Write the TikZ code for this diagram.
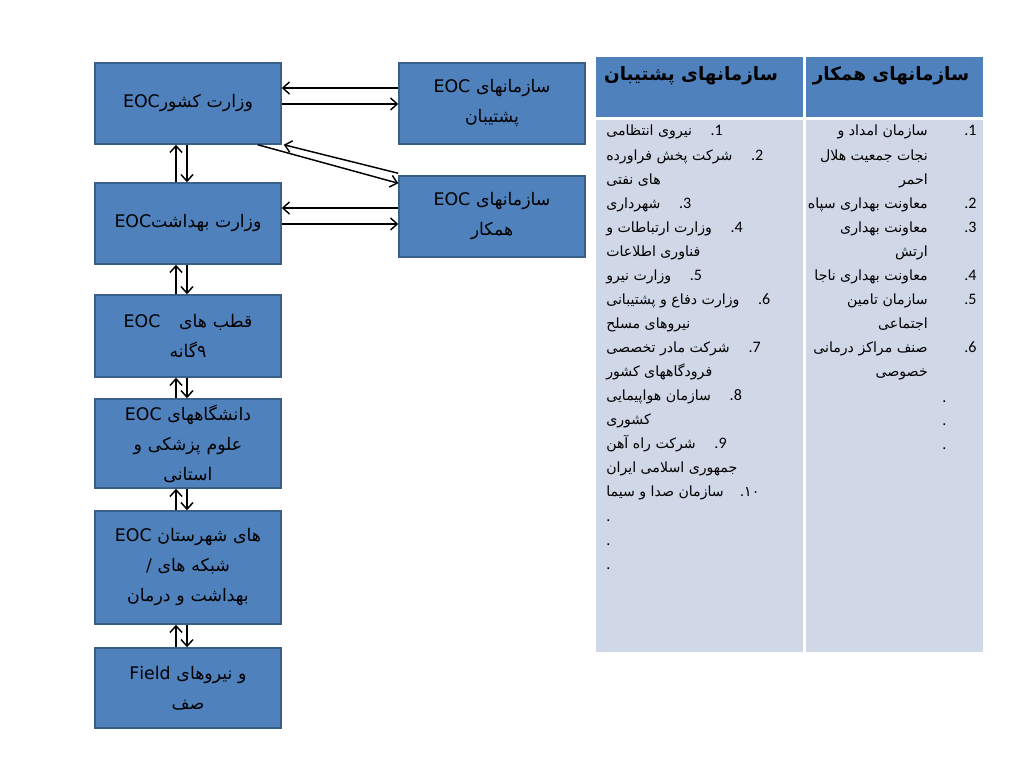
\documentclass[tikz,border=0pt]{standalone}
\usepackage{fontspec}
\setmainfont{Carlito}
\newfontfamily\ar[Script=Arabic]{DejaVu Sans}
\TeXXeTstate=1
\usetikzlibrary{arrows.meta,calc}
\definecolor{boxblue}{HTML}{4F81BD}
\definecolor{boxedge}{HTML}{3A5F8B}
\definecolor{cellbody}{HTML}{D0D8E8}
\newcommand{\LT}[1]{\beginL #1\endL{}}
\begin{document}
\begin{tikzpicture}[x=0.75pt,y=-0.75pt,
  orgbox/.style={draw=boxedge, line width=1.1pt, fill=boxblue, minimum width=139.5pt,
    text width=132pt, align=center, inner sep=0pt,
    font=\ar\fontsize{13}{22.5}\selectfont},
  link/.style={line width=1.1pt, -{Straight Barb[length=5pt,width=9pt,line width=1.1pt]}},
  headtxt/.style={inner sep=0pt, font=\ar\bfseries\fontsize{13.8}{18}\selectfont},
  bodytxt/.style={inner sep=0pt, font=\ar\fontsize{10.6}{18}\selectfont},
  numtxt/.style={inner sep=0pt, font=\fontsize{12}{18}\selectfont}]
\useasboundingbox (0,0) rectangle (1024,768);
\fill[white] (0,0) rectangle (1024,768);

% left chain
\node[orgbox, minimum height=60.75pt] (k) at (188,103.5) {\beginR وزارت کشور\LT{EOC}\endR};
\node[orgbox, minimum height=60.75pt] (b) at (188,223.5) {\beginR وزارت بهداشت\LT{EOC}\endR};
\node[orgbox, minimum height=61.5pt] (q) at (188,336) {\beginR قطب های\hspace{14pt}\LT{EOC}\endR\\\beginR ٩گانه\endR};
\node[orgbox, minimum height=66.75pt] (d) at (188,443.5) {\beginR دانشگاههای \LT{EOC}\endR\\\beginR علوم پزشکی و\endR\\\beginR استانی\endR};
\node[orgbox, minimum height=84.75pt] (s) at (188,567.5) {\beginR های شهرستان \LT{EOC}\endR\\\beginR شبکه های /\endR\\\beginR بهداشت و درمان\endR};
\node[orgbox, minimum height=60pt] (f) at (188,688) {\beginR و نیروهای \LT{Field}\endR\\\beginR صف\endR};

% right boxes
\node[orgbox, minimum height=60.75pt] (p) at (492,103.5) {\beginR سازمانهای \LT{EOC}\endR\\\beginR پشتیبان\endR};
\node[orgbox, minimum height=60.75pt] (h) at (492,216.5) {\beginR سازمانهای \LT{EOC}\endR\\\beginR همکار\endR};

% vertical links
\foreach \u/\v in {k/b,b/q,q/d,d/s,s/f}{
  \draw[link] ($(\u.south)+(-1,0)$) -- ($(\v.north)+(-1,0)$);
  \draw[link] ($(\v.north)+(-12,0)$) -- ($(\u.south)+(-12,0)$);
}
% horizontal links
\draw[link] ($(p.west)+(0,-15.5)$) -- ($(k.east)+(0,-15.5)$);
\draw[link] ($(k.east)+(0,0.5)$) -- ($(p.west)+(0,0.5)$);
\draw[link] ($(h.west)+(0,-8.5)$) -- ($(b.east)+(0,-15.5)$);
\draw[link] ($(b.east)+(0,0.5)$) -- ($(h.west)+(0,7.5)$);
% diagonal links
\draw[link] ($(k.south east)+(-24,0)$) -- ($(h.north west)+(0,8)$);
\draw[link] ($(h.north west)+(0,-2)$) -- ($(k.south east)+(2,0)$);

% table
\fill[boxblue] (596,57) rectangle (803,117);
\fill[boxblue] (806,57) rectangle (983,117);
\fill[cellbody] (596,120) rectangle (803,652);
\fill[cellbody] (806,120) rectangle (983,652);

\node[headtxt] (h1) at (691,76) {\beginR سازمانهای پشتیبان\endR};
\node[headtxt] (h2) at (891,76) {\beginR سازمانهای همکار\endR};

% left column (supporting)
\newcommand{\lrow}[4]{\node[bodytxt, anchor=mid west] (#1) at (606,#2) {#3\ifx&#4&\else\hspace{14pt}{\normalfont\fontsize{12}{18}\selectfont #4}\fi};}
\lrow{a1}{132}{\beginR نیروی انتظامی\endR}{.1}
\lrow{a2}{157}{\beginR شرکت پخش فراورده\endR}{.2}
\lrow{a3}{181}{\beginR های نفتی\endR}{}
\lrow{a4}{205}{\beginR شهرداری\endR}{.3}
\lrow{a5}{229}{\beginR وزارت ارتباطات و\endR}{.4}
\lrow{a6}{253}{\beginR فناوری اطلاعات\endR}{}
\lrow{a7}{277}{\beginR وزارت نیرو\endR}{.5}
\lrow{a8}{301}{\beginR وزارت دفاع و پشتیبانی\endR}{.6}
\lrow{a9}{325}{\beginR نیروهای مسلح\endR}{}
\lrow{a10}{349}{\beginR شرکت مادر تخصصی\endR}{.7}
\lrow{a11}{373}{\beginR فرودگاههای کشور\endR}{}
\lrow{a12}{397}{\beginR سازمان هواپیمایی\endR}{.8}
\lrow{a13}{421}{\beginR کشوری\endR}{}
\lrow{a14}{445}{\beginR شرکت راه آهن\endR}{.9}
\lrow{a15}{469}{\beginR جمهوری اسلامی ایران\endR}{}
\node[bodytxt, anchor=mid west] (a16) at (606,493) {\beginR سازمان صدا و سیما\endR\hspace{12pt}{\ar .\beginR ١٠\endR}};
\node[numtxt, anchor=base west] (a17) at (606,521) {.};
\node[numtxt, anchor=base west] (a18) at (606,545) {.};
\node[numtxt, anchor=base west] (a19) at (606,569) {.};

% right column (cooperating)
\newcommand{\rrow}[4]{\node[bodytxt, anchor=mid east] (#1) at (928,#2) {#3};
  \ifx&#4&\else\node[numtxt, anchor=mid west] at (964,#2) {#4};\fi}
\rrow{c1}{132}{\beginR سازمان امداد و\endR}{.1}
\rrow{c2}{157}{\beginR نجات جمعیت هلال\endR}{}
\rrow{c3}{181}{\beginR احمر\endR}{}
\rrow{c4}{205}{\beginR معاونت بهداری سپاه\endR}{.2}
\rrow{c5}{229}{\beginR معاونت بهداری\endR}{.3}
\rrow{c6}{253}{\beginR ارتش\endR}{}
\rrow{c7}{277}{\beginR معاونت بهداری ناجا\endR}{.4}
\rrow{c8}{301}{\beginR سازمان تامین\endR}{.5}
\rrow{c9}{325}{\beginR اجتماعی\endR}{}
\rrow{c10}{349}{\beginR صنف مراکز درمانی\endR}{.6}
\rrow{c11}{373}{\beginR خصوصی\endR}{}
\node[numtxt, anchor=base west] (c12) at (942,402) {.};
\node[numtxt, anchor=base west] (c13) at (942,425) {.};
\node[numtxt, anchor=base west] (c14) at (942,449) {.};
\end{tikzpicture}
\end{document}
